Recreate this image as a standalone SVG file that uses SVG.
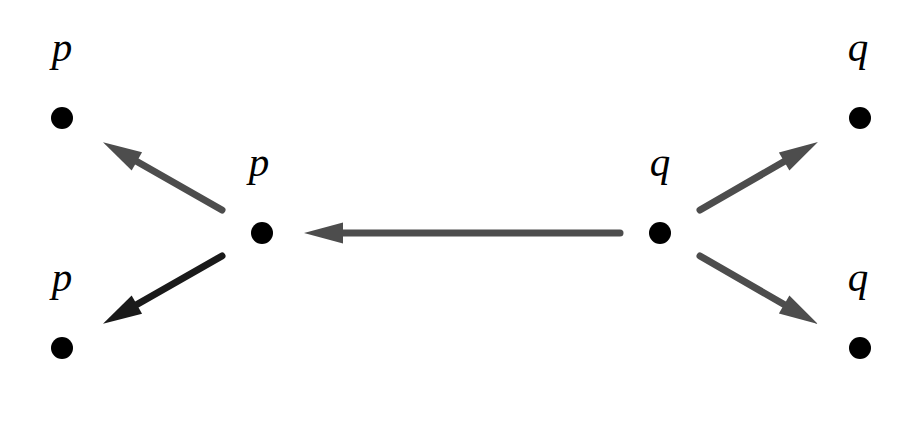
<svg xmlns="http://www.w3.org/2000/svg" width="922" height="430" viewBox="0 0 922 430">
<style>
.dot{fill:#000}
.lbl{font-family:"Liberation Serif","DejaVu Serif",serif;font-style:italic;font-size:41px;fill:#000;text-anchor:middle}
.g{stroke:#4d4d4d;stroke-width:7;stroke-linecap:round;fill:none}
.d{stroke:#1a1a1a;stroke-width:7;stroke-linecap:round;fill:none}
</style>
<defs>
<marker id="hg" markerUnits="userSpaceOnUse" orient="auto" markerWidth="42" markerHeight="24" refX="1" refY="11" viewBox="0 0 42 22" overflow="visible">
<path d="M0,0.5 L39,11 L0,21.5 Z" fill="#4d4d4d"/>
</marker>
<marker id="hd" markerUnits="userSpaceOnUse" orient="auto" markerWidth="42" markerHeight="24" refX="1" refY="11" viewBox="0 0 42 22" overflow="visible">
<path d="M0,0.5 L39,11 L0,21.5 Z" fill="#1a1a1a"/>
</marker>
</defs>
<rect width="922" height="430" fill="#fff"/>
<g id="connectors">
<line class="g" x1="222" y1="210" x2="136" y2="161" marker-end="url(#hg)"/>
<line class="d" x1="222" y1="256" x2="136" y2="305" marker-end="url(#hd)"/>
<line class="g" x1="620" y1="233" x2="342" y2="233" marker-end="url(#hg)"/>
<line class="g" x1="700" y1="210" x2="785" y2="161" marker-end="url(#hg)"/>
<line class="g" x1="700" y1="256" x2="785" y2="305" marker-end="url(#hg)"/>
</g>
<g id="p_top"><circle class="dot" cx="62" cy="118" r="11"/><text class="lbl" x="62" y="61">p</text></g>
<g id="p_bottom"><circle class="dot" cx="62" cy="348" r="11"/><text class="lbl" x="62" y="291">p</text></g>
<g id="p_mid"><circle class="dot" cx="262" cy="233" r="11"/><text class="lbl" x="259" y="176">p</text></g>
<g id="q_mid"><circle class="dot" cx="660" cy="233" r="11"/><text class="lbl" x="660" y="176">q</text></g>
<g id="q_top"><circle class="dot" cx="860" cy="118" r="11"/><text class="lbl" x="858" y="61">q</text></g>
<g id="q_bottom"><circle class="dot" cx="860" cy="348" r="11"/><text class="lbl" x="858" y="291">q</text></g>
</svg>
